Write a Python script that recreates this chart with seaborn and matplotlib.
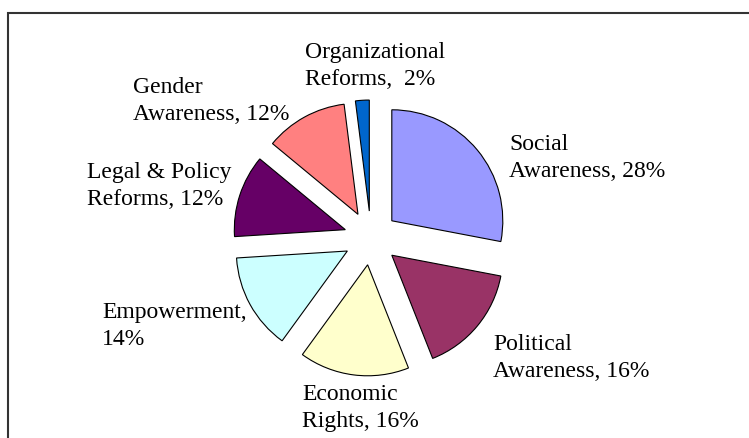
import numpy as np
import pandas as pd
import matplotlib.pyplot as plt
import seaborn as sns
from matplotlib.patches import Rectangle

sns.set_theme(style="white")
plt.rcParams['font.family'] = ['Liberation Serif', 'DejaVu Serif']

# data
names = ["Social Awareness", "Political Awareness", "Economic Rights", "Empowerment",
         "Legal & Policy Reforms", "Gender Awareness", "Organizational Reforms"]
shares = [28, 16, 16, 14, 12, 12, 2]
label_fmt = ["Social\nAwareness, {}%", "Political\nAwareness, {}%", "Economic\nRights, {}%",
             "Empowerment,\n{}%", "Legal & Policy\nReforms, {}%", "Gender\nAwareness, {}%",
             "Organizational\nReforms, {:>2}%"]
slice_colors = ["#9999FF", "#993366", "#FFFFCC", "#CCFFFF", "#660066", "#FF8080", "#0066CC"]

# label anchors: left x, last-line baseline (pixels from top)
label_x = [509, 493, 302, 102, 87, 133, 305]
label_y = [177, 377, 427, 345, 205, 120, 85]

df = pd.DataFrame({"name": names, "share": shares})
palette = sns.color_palette(slice_colors)

W, H = 749, 439
fig = plt.figure(figsize=(W / 100, H / 100), dpi=100)
ax = fig.add_axes([0, 0, 1, 1])

# explode is in data units here (pixels)
ax.pie(df["share"], colors=palette, startangle=90, counterclock=False,
       center=(371, H - 239), radius=111, explode=[27] * len(df),
       wedgeprops=dict(edgecolor="black", linewidth=0.8))
ax.set_xlim(0, W)
ax.set_ylim(0, H)
ax.set_aspect("equal")
ax.axis("off")

for fmt, v, x, y in zip(label_fmt, df["share"], label_x, label_y):
    ax.text(x, H - y, fmt.format(v), ha="left", va="baseline", fontsize=17,
            linespacing=1.37, color="black")

fig.add_artist(Rectangle((8 / W, -0.1), 1.1, 1.1 - 14 / H, transform=fig.transFigure,
                         fill=False, edgecolor="#333333", linewidth=1.5))

fig.savefig("out.png", dpi=100)
